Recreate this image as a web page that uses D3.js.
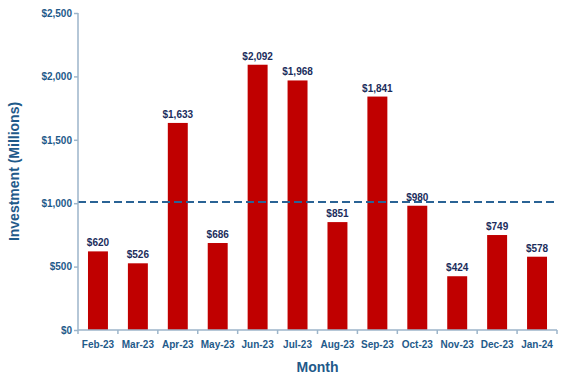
<html>
<head>
<script src="https://d3js.org/d3.v7.min.js"></script>
<style>
  body { margin: 0; background: white; }
  svg { font-family: "Liberation Sans", Arial, sans-serif; }
</style>
</head>
<body>
<svg width="569" height="384"></svg>
<script>
  var months = ["Feb-23","Mar-23","Apr-23","May-23","Jun-23","Jul-23","Aug-23","Sep-23","Oct-23","Nov-23","Dec-23","Jan-24"];
  var investment = [620, 526, 1633, 686, 2092, 1968, 851, 1841, 980, 424, 749, 578];
  var yTicks = [0, 500, 1000, 1500, 2000, 2500];
  var refLine = 1010;

  var svg = d3.select("svg");
  var plotLeft = 78, plotRight = 557, plotTop = 13, plotBottom = 330;

  var xs = d3.scaleBand().domain(months).range([plotLeft, plotRight]).paddingInner(0.5).paddingOuter(0.25);
  var band = d3.scaleBand().domain(months).range([plotLeft, plotRight]);
  var ys = d3.scaleLinear().domain([0, 2500]).range([plotBottom, plotTop]);

  var axisColor = "#9db5ca", labelColor = "#1f5a8a";

  // bars
  svg.append("g").selectAll("rect").data(investment).enter()
    .append("rect")
    .attr("x", (d, i) => xs(months[i]))
    .attr("y", d => ys(d))
    .attr("width", xs.bandwidth())
    .attr("height", d => plotBottom - ys(d))
    .attr("fill", "#c00000");

  // value labels
  svg.append("g").selectAll("text").data(investment).enter()
    .append("text")
    .attr("x", (d, i) => xs(months[i]) + xs.bandwidth() / 2)
    .attr("y", d => ys(d) - 5)
    .attr("text-anchor", "middle")
    .attr("font-size", "10px")
    .attr("font-weight", "bold")
    .attr("fill", "#1b2d5c")
    .text(d => "$" + d3.format(",")(d));

  // dashed line
  svg.append("line")
    .attr("x1", plotLeft).attr("x2", plotRight - 1)
    .attr("y1", ys(refLine)).attr("y2", ys(refLine))
    .attr("stroke", "#2a6395")
    .attr("stroke-width", 2)
    .attr("stroke-dasharray", "8,4");

  // y axis
  var yAxis = svg.append("g").attr("transform", "translate(" + plotLeft + ",0)")
    .call(d3.axisLeft(ys).tickValues(yTicks).tickSize(4).tickFormat(d => "$" + d3.format(",")(d)));
  yAxis.selectAll("path, line").attr("stroke", axisColor).attr("stroke-width", 1.5);
  yAxis.select(".domain").attr("d", "M0," + plotTop + "V" + plotBottom);
  yAxis.selectAll("text").attr("fill", labelColor).attr("font-size", "10px")
    .attr("font-weight", "bold").attr("font-family", "Liberation Sans, Arial, sans-serif").attr("x", -6);

  // x axis
  var xAxis = svg.append("g").attr("transform", "translate(0," + plotBottom + ")")
    .call(d3.axisBottom(band).tickSize(0).tickPadding(11));
  xAxis.select(".domain").attr("stroke", axisColor).attr("stroke-width", 1.5).attr("d", "M" + plotLeft + ",0H" + plotRight);
  xAxis.selectAll("text").attr("fill", labelColor).attr("font-size", "10px")
    .attr("font-weight", "bold").attr("font-family", "Liberation Sans, Arial, sans-serif");
  // boundary ticks
  var bounds = months.map(m => band(m)).concat([plotRight]);
  svg.append("g").selectAll("line").data(bounds).enter()
    .append("line")
    .attr("x1", d => d).attr("x2", d => d)
    .attr("y1", plotBottom).attr("y2", plotBottom + 4)
    .attr("stroke", axisColor).attr("stroke-width", 1.5);

  // axis titles
  svg.append("text")
    .attr("transform", "translate(19," + ((plotTop + plotBottom) / 2) + ") rotate(-90)")
    .attr("text-anchor", "middle")
    .attr("font-size", "14px").attr("font-weight", "bold")
    .attr("fill", labelColor)
    .text("Investment (Millions)");

  svg.append("text")
    .attr("x", (plotLeft + plotRight) / 2).attr("y", 372)
    .attr("text-anchor", "middle")
    .attr("font-size", "14px").attr("font-weight", "bold")
    .attr("fill", labelColor)
    .text("Month");
</script>
</body>
</html>
